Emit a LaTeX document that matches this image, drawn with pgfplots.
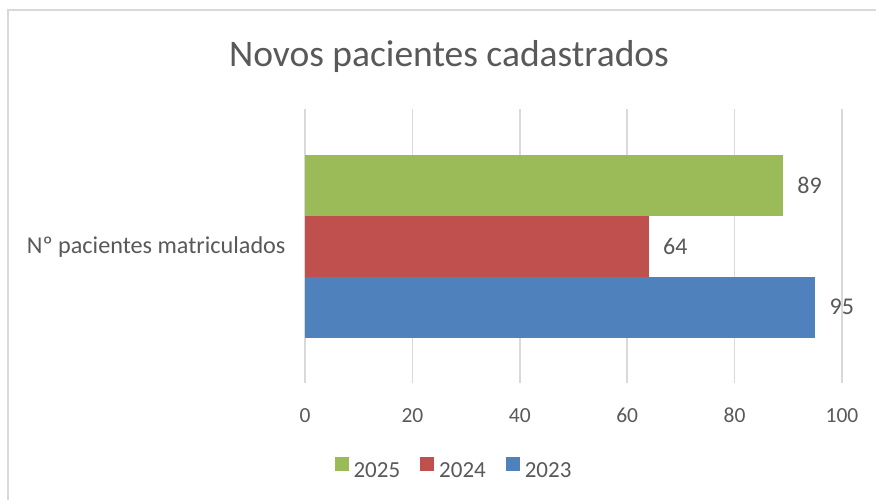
\documentclass[border=0pt]{standalone}
\usepackage{pgfplots}
\pgfplotsset{compat=1.18}
\usepackage{fontspec}
\setmainfont{Carlito}
\definecolor{txt}{HTML}{595959}
\definecolor{gridc}{HTML}{D9D9D9}
\definecolor{cgreen}{HTML}{9BBB59}
\definecolor{cred}{HTML}{C0504D}
\definecolor{cblue}{HTML}{4F81BD}
\begin{document}
\begin{tikzpicture}
\useasboundingbox (0,0) rectangle (876pt,-500pt);
\fill[white] (0,0) rectangle (876pt,-500pt);
\draw[gridc, line width=1.5pt] (8pt,-520pt) -- (8pt,-10pt) -- (900pt,-10pt);
\node[anchor=base, text=txt, font=\fontsize{37.5}{45}\selectfont] at (449pt,-67pt) {Novos pacientes cadastrados};
\begin{axis}[
  at={(305pt,-383pt)}, anchor=south west,
  scale only axis, width=537pt, height=274pt,
  xbar, bar width=61,
  xmin=0, xmax=100, ymin=-137, ymax=137,
  xtick={0,20,40,60,80,100},
  ytick={0}, yticklabels={Nº pacientes matriculados},
  xmajorgrids, major grid style={color=gridc, line width=1.5pt},
  axis line style={draw=none}, major tick length=0pt,
  /pgf/number format/assume math mode=true,
  xticklabel style={font=\fontsize{21.5}{26}\selectfont, text=txt, anchor=base, yshift=-39pt},
  yticklabel style={font=\fontsize{24.2}{29}\selectfont, text=txt, anchor=base east, xshift=-16pt, yshift=-7pt},
  nodes near coords, point meta=x,
  nodes near coords style={font=\fontsize{24}{29}\selectfont, text=txt, anchor=west, xshift=11pt},
  legend style={at={(0.2756,-0.31)}, anchor=center, draw=none, fill=none,
    inner sep=0pt,
    nodes={inner sep=0pt, font=\fontsize{23}{27}\selectfont, text=txt},
    /tikz/every odd column/.style={column sep=5pt},
    /tikz/every even column/.style={column sep=20pt}},
  legend columns=3,
]
\addplot[fill=cgreen, draw=none, bar shift=61,
  legend image code/.code={\fill[cgreen] (0pt,0pt) rectangle (14pt,14pt);}]
  coordinates {(89,0)};
\addplot[fill=cred, draw=none, bar shift=0,
  legend image code/.code={\fill[cred] (0pt,0pt) rectangle (14pt,14pt);}]
  coordinates {(64,0)};
\addplot[fill=cblue, draw=none, bar shift=-61,
  legend image code/.code={\fill[cblue] (0pt,0pt) rectangle (14pt,14pt);}]
  coordinates {(95,0)};
\legend{2025,2024,2023}
\end{axis}
\end{tikzpicture}
\end{document}
